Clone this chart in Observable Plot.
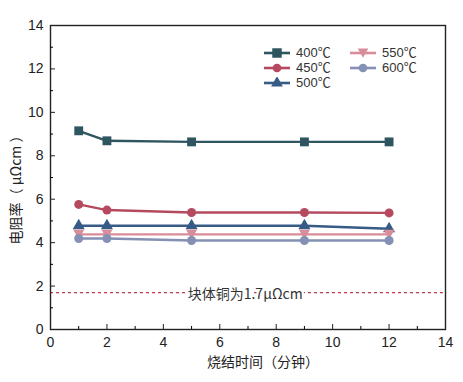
<!DOCTYPE html>
<html><head><meta charset="utf-8">
<script src="https://cdn.jsdelivr.net/npm/d3@7"></script>
<script src="https://cdn.jsdelivr.net/npm/@observablehq/plot@0.6"></script>
<style>
body{margin:0;background:#fff;font-family:"Liberation Sans","Noto Sans CJK SC",sans-serif;}
#wrap{position:relative;width:463px;height:382px;}
#legend{position:absolute;left:264px;top:45px;font-size:13px;color:#333;display:grid;grid-template-columns:86px 80px;row-gap:0px;line-height:15px;}
#legend div{display:flex;align-items:center;white-space:nowrap;height:15px;}
#legend svg{margin-right:6px;}
</style></head>
<body><div id="wrap"><div id="chart"></div><div id="legend"></div></div>
<script>
const times = [1, 2, 5, 9, 12];
const seriesNames = ["400℃", "450℃", "500℃", "550℃", "600℃"];
const v400 = [9.15, 8.69, 8.64, 8.64, 8.64];
const v450 = [5.76, 5.50, 5.39, 5.39, 5.37];
const v500 = [4.78, 4.78, 4.78, 4.78, 4.64];
const v550 = [4.38, 4.38, 4.38, 4.38, 4.38];
const v600 = [4.19, 4.19, 4.10, 4.10, 4.10];
const colors = ["#2f5560", "#b54a5f", "#365b85", "#d98d9b", "#8591b4"];
const xTicks = [0, 2, 4, 6, 8, 10, 12, 14];
const yTicks = [0, 2, 4, 6, 8, 10, 12, 14];
const xMinor = [1, 3, 5, 7, 9, 11, 13];
const yMinor = [1, 3, 5, 7, 9, 11, 13];
const refValue = 1.7;
const refLabel = "块体铜为1.7μΩcm";
const xLabel = "烧结时间（分钟）";
const yLabel = "电阻率（ μΩcm ）";

const triDown = {draw(ctx, size){const s=Math.sqrt(size*1.3);const h=s*0.5;ctx.moveTo(-s*0.6,-h);ctx.lineTo(s*0.6,-h);ctx.lineTo(0,h*1.1);ctx.closePath();}};
const symbols = ["square", "circle", "triangle", triDown, "circle"];
const allVals = [v400, v450, v500, v550, v600];
const data = [];
allVals.forEach((vals, i) => vals.forEach((v, j) => data.push({s: seriesNames[i], x: times[j], y: v})));

const W = 463, H = 382;
const mL = 50, mR = 18, mT = 25, mB = 53;
const cjk = '"Noto Sans CJK SC",sans-serif';
const marks = [
  Plot.ruleY([refValue], {stroke: "#c0394f", strokeDasharray: "3,3", strokeWidth: 1.2}),
  Plot.text([refLabel], {x: 6.9, y: refValue, dy: 2, text: d => d, fontSize: 14, fontFamily: cjk, fill: "#333", stroke: "white", strokeWidth: 5, paintOrder: "stroke"}),
  Plot.line(data, {x: "x", y: "y", z: "s", stroke: "s", strokeWidth: 2.4}),
];
seriesNames.forEach((n, i) => {
  marks.push(Plot.dot(data.filter(d => d.s === n), {x: "x", y: "y", symbol: () => symbols[i], fill: colors[i], stroke: "none", r: i===0?5:4.5}));
});
marks.push(
  Plot.frame({stroke: "#222", strokeWidth: 1.4}),
  Plot.axisX({ticks: xTicks, tickSize: -5, tickPadding: 13, fontSize: 14, fontFamily: '"Liberation Sans",sans-serif', color: "#222", label: null}),
  Plot.axisX({ticks: xMinor, tickSize: -3, tickFormat: () => "", label: null}),
  Plot.axisY({ticks: yTicks, tickSize: -5, tickPadding: 12, fontSize: 14, fontFamily: '"Liberation Sans",sans-serif', color: "#222", label: null}),
  Plot.axisY({ticks: yMinor, tickSize: -3, tickFormat: () => "", label: null}),
  Plot.text([xLabel], {frameAnchor: "bottom", dy: 37, dx: 15, text: d => d, fontSize: 14, fontFamily: cjk, fill: "#222"}),
  Plot.text([yLabel], {frameAnchor: "left", textAnchor: "middle", dx: -34, dy: 9, rotate: -90, text: d => d, fontSize: 14, fontFamily: cjk, fill: "#222"})
);
const chart = Plot.plot({
  width: W, height: H,
  marginLeft: mL, marginRight: mR, marginTop: mT, marginBottom: mB,
  style: {fontFamily: '"Liberation Sans","Noto Sans CJK SC",sans-serif', background: "white"},
  x: {domain: [0, 14]},
  y: {domain: [0, 14]},
  color: {domain: seriesNames, range: colors},
  symbol: {type: "identity"},
  marks
});
document.getElementById("chart").appendChild(chart);

const order = [0, 3, 1, 4, 2];
const leg = document.getElementById("legend");
order.forEach(i => {
  const d = document.createElement("div");
  const sym = d3.symbol().type(i===0?d3.symbolSquare: i===2?d3.symbolTriangle : (i===3? triDown : d3.symbolCircle)).size(i===0?90:60)();
  d.innerHTML = `<svg width="26" height="12"><line x1="0" y1="6" x2="26" y2="6" stroke="${colors[i]}" stroke-width="2.6"/><path transform="translate(13,6)" d="${sym}" fill="${colors[i]}"/></svg><span>${seriesNames[i]}</span>`;
  leg.appendChild(d);
});
</script></body></html>
